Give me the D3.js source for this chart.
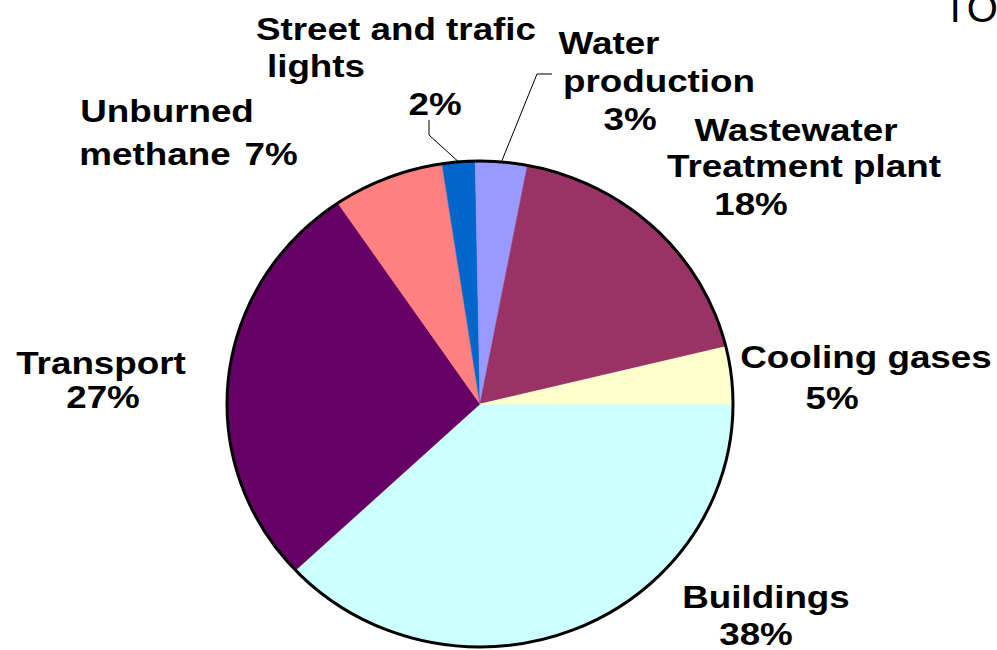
<!DOCTYPE html>
<html>
<head>
<meta charset="utf-8">
<script src="https://cdn.jsdelivr.net/npm/d3@7"></script>
<style>
  body { margin: 0; background: #fff; }
  text { font-family: "Liberation Sans", Arial, sans-serif; font-weight: bold; fill: #000; }
</style>
</head>
<body>
<div id="chart"></div>
<script>
// slices, clockwise from 3 o'clock
var categories = ['Buildings', 'Transport', 'Unburned methane', 'Street and trafic lights',
                  'Water production', 'Wastewater Treatment plant', 'Cooling gases'];
var shares = [38, 27.5, 7.1, 2.1, 3.3, 18.2, 3.8];
var shareLabels = ['38%', '27%', '7%', '2%', '3%', '18%', '5%'];
var colors = ['#CCFFFF', '#660066', '#FF8080', '#0066CC', '#9999FF', '#993366', '#FFFFCC'];

// label lines, per slice: [text, x, y]
var labelLines = [
    [['Buildings', 766, 608], ['38%', 756, 645]],
    [['Transport', 101, 374], ['27%', 103, 408]],
    [['Unburned', 167, 122], ['methane', 155, 165], ['7%', 271, 165]],
    [['Street and trafic', 396, 40], ['lights', 316, 77], ['2%', 435, 115]],
    [['Water', 609, 54], ['production', 659, 92], ['3%', 630, 130]],
    [['Wastewater', 796, 141], ['Treatment plant', 804, 177], ['18%', 751, 215]],
    [['Cooling gases', 866, 368], ['5%', 832, 409]]
];
// leader lines: slice index -> bend points from label towards the pie
var leaders = {
    3: [[429, 120], [429, 135]],
    4: [[552, 74], [537, 74]]
};

var W = 997, H = 650;
var cx = 480, cy = 404, rx = 253, ry = 243;
var stretch = 1.15;

var svg = d3.select('#chart').append('svg')
    .attr('width', W)
    .attr('height', H);

var pie = d3.pie()
    .sort(null)
    .value(function (d) { return d; })
    .startAngle(Math.PI / 2)
    .endAngle(Math.PI / 2 + 2 * Math.PI);

var arcs = pie(shares);

var arc = d3.arc()
    .innerRadius(0)
    .outerRadius(rx);

var plane = svg.append('g')
    .attr('transform', 'translate(' + cx + ',' + cy + ') scale(1,' + (ry / rx) + ')');

plane.selectAll('path.slice')
    .data(arcs)
    .enter()
    .append('path')
    .attr('class', 'slice')
    .attr('d', arc)
    .attr('fill', function (d, i) { return colors[i]; })
    .attr('stroke', function (d, i) { return colors[i]; })
    .attr('stroke-width', 0.5);

svg.append('ellipse')
    .attr('cx', cx)
    .attr('cy', cy)
    .attr('rx', rx)
    .attr('ry', ry)
    .attr('fill', 'none')
    .attr('stroke', '#000')
    .attr('stroke-width', 3);

// leader lines end at the middle of the slice on the rim
function rimPoint(d) {
    var a = (d.startAngle + d.endAngle) / 2;
    return [cx + rx * Math.sin(a), cy - ry * Math.cos(a)];
}

Object.keys(leaders).forEach(function (k) {
    var pts = leaders[k].concat([rimPoint(arcs[k])]);
    svg.append('path')
        .attr('d', d3.line()(pts))
        .attr('fill', 'none')
        .attr('stroke', '#000')
        .attr('stroke-width', 1);
});

labelLines.forEach(function (lines, i) {
    lines.forEach(function (l) {
        var txt = l[0];
        if (txt.indexOf('%') > -1) txt = shareLabels[i];
        svg.append('text')
            .attr('transform', 'translate(' + l[1] + ',' + l[2] + ') scale(' + stretch + ',1)')
            .attr('text-anchor', 'middle')
            .style('font-size', '32px')
            .text(txt);
    });
});

// clipped title at the top right
svg.append('text')
    .attr('x', 943)
    .attr('y', 22)
    .style('font-weight', 'normal')
    .style('font-size', '40px')
    .text('TO');
</script>
</body>
</html>
